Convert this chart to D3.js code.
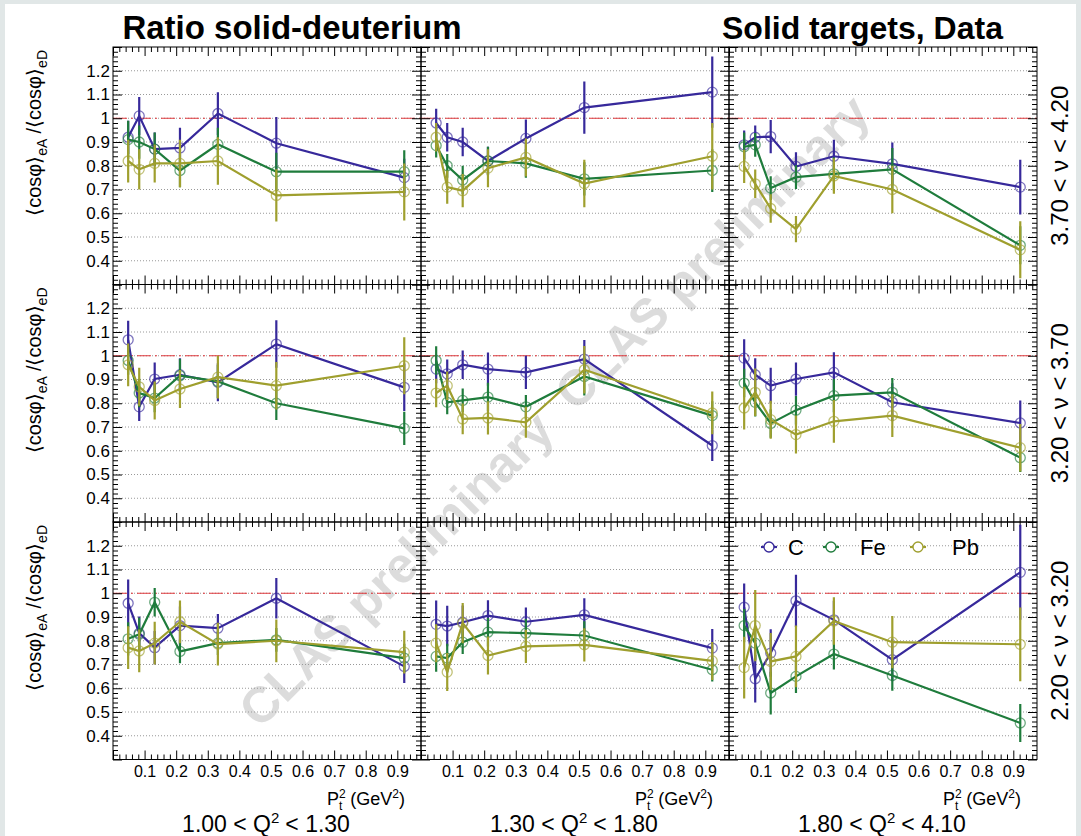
<!DOCTYPE html>
<html>
<head>
<meta charset="utf-8">
<script src="https://cdn.jsdelivr.net/npm/d3@7"></script>
<style>
  html, body { margin: 0; padding: 0; background: #e1e7e7; }
  svg { display: block; }
  text { font-family: "Liberation Sans", Arial, Helvetica, sans-serif; }
</style>
</head>
<body>
<svg id="chart" width="1081" height="836"></svg>
<script>
// ---- data ----
const targets = ['C', 'Fe', 'Pb'];
const q2Low = ['1.00', '1.30', '1.80'];
const q2High = ['1.30', '1.80', '4.10'];
const nuLow = ['3.70', '3.20', '2.20'];   // rows, top to bottom
const nuHigh = ['4.20', '3.70', '3.20'];
const ptMeans = [0.048, 0.083, 0.132, 0.212, 0.332, 0.517, 0.922];
const xTickLabels = [0.1, 0.2, 0.3, 0.4, 0.5, 0.6, 0.7, 0.8, 0.9];
const yTickLabels = [0.4, 0.5, 0.6, 0.7, 0.8, 0.9, 1.0, 1.1, 1.2];

// [nu row][Q2 column][pt bin]
const cRatio = [
  [[0.92, 1.01, 0.87, 0.875, 1.02, 0.895, 0.75], [0.98, 0.92, 0.90, 0.82, 0.915, 1.045, 1.11], [0.888, 0.92, 0.923, 0.797, 0.84, 0.808, 0.71]],
  [[1.067, 0.785, 0.902, 0.92, 0.888, 1.049, 0.867], [0.944, 0.924, 0.962, 0.944, 0.93, 0.986, 0.622], [0.99, 0.92, 0.874, 0.902, 0.93, 0.804, 0.717]],
  [[0.958, 0.832, 0.771, 0.864, 0.853, 0.979, 0.692], [0.869, 0.862, 0.878, 0.906, 0.88, 0.909, 0.769], [0.941, 0.64, 0.748, 0.968, 0.888, 0.72, 1.088]]
];
const cErr = [
  [[0.07, 0.08, 0.07, 0.085, 0.09, 0.11, 0.08], [0.06, 0.06, 0.06, 0.06, 0.08, 0.11, 0.15], [0.06, 0.05, 0.07, 0.06, 0.07, 0.09, 0.115]],
  [[0.08, 0.06, 0.07, 0.07, 0.08, 0.1, 0.1], [0.06, 0.06, 0.06, 0.07, 0.07, 0.08, 0.065], [0.08, 0.07, 0.075, 0.07, 0.085, 0.08, 0.095]],
  [[0.1, 0.07, 0.07, 0.08, 0.06, 0.085, 0.07], [0.1, 0.085, 0.07, 0.065, 0.06, 0.07, 0.08], [0.1, 0.1, 0.1, 0.11, 0.08, 0.09, 0.2]]
];
const feRatio = [
  [[0.91, 0.90, 0.87, 0.78, 0.89, 0.775, 0.775], [0.885, 0.80, 0.74, 0.82, 0.81, 0.745, 0.78], [0.88, 0.888, 0.706, 0.752, 0.766, 0.785, 0.465]],
  [[0.98, 0.843, 0.822, 0.916, 0.892, 0.80, 0.694], [0.98, 0.804, 0.812, 0.826, 0.785, 0.913, 0.748], [0.885, 0.804, 0.715, 0.771, 0.832, 0.846, 0.571]],
  [[0.808, 0.827, 0.962, 0.755, 0.79, 0.804, 0.727], [0.734, 0.727, 0.794, 0.836, 0.832, 0.822, 0.678], [0.864, 0.79, 0.58, 0.65, 0.744, 0.654, 0.454]]
];
const feErr = [
  [[0.08, 0.07, 0.07, 0.07, 0.07, 0.08, 0.09], [0.05, 0.05, 0.06, 0.06, 0.06, 0.07, 0.09], [0.06, 0.05, 0.05, 0.05, 0.07, 0.09, 0.08]],
  [[0.06, 0.06, 0.06, 0.07, 0.07, 0.07, 0.07], [0.06, 0.05, 0.05, 0.06, 0.05, 0.08, 0.06], [0.06, 0.06, 0.06, 0.06, 0.07, 0.06, 0.06]],
  [[0.07, 0.07, 0.06, 0.05, 0.05, 0.05, 0.06], [0.065, 0.06, 0.05, 0.06, 0.06, 0.06, 0.05], [0.07, 0.07, 0.09, 0.07, 0.065, 0.065, 0.08]]
];
const pbRatio = [
  [[0.82, 0.785, 0.81, 0.81, 0.82, 0.675, 0.69], [0.92, 0.71, 0.695, 0.79, 0.835, 0.725, 0.84], [0.797, 0.724, 0.62, 0.533, 0.757, 0.70, 0.446]],
  [[0.962, 0.869, 0.812, 0.86, 0.91, 0.874, 0.958], [0.843, 0.874, 0.734, 0.738, 0.72, 0.941, 0.759], [0.78, 0.846, 0.731, 0.668, 0.724, 0.748, 0.613]],
  [[0.771, 0.757, 0.79, 0.88, 0.786, 0.80, 0.752], [0.79, 0.668, 0.874, 0.738, 0.776, 0.783, 0.715], [0.687, 0.864, 0.713, 0.734, 0.883, 0.794, 0.785]]
];
const pbErr = [
  [[0.09, 0.085, 0.08, 0.1, 0.1, 0.11, 0.12], [0.06, 0.07, 0.07, 0.08, 0.08, 0.1, 0.14], [0.07, 0.06, 0.06, 0.055, 0.075, 0.1, 0.12]],
  [[0.09, 0.08, 0.08, 0.08, 0.09, 0.1, 0.12], [0.06, 0.06, 0.065, 0.07, 0.065, 0.1, 0.09], [0.09, 0.1, 0.08, 0.08, 0.09, 0.09, 0.1]],
  [[0.09, 0.09, 0.09, 0.09, 0.09, 0.09, 0.09], [0.08, 0.08, 0.085, 0.08, 0.07, 0.07, 0.08], [0.13, 0.15, 0.12, 0.13, 0.1, 0.11, 0.155]]
];

// ---- layout ----
const colX = [113, 421, 729];
const rowY = [47, 284.5, 522];
const padW = 308, padH = 237.5;
const lineColor = { C: '#37299b', Fe: '#1f7c3c', Pb: '#9f9f2e' };
const series = { C: [cRatio, cErr], Fe: [feRatio, feErr], Pb: [pbRatio, pbErr] };

const svg = d3.select('#chart');
svg.append('rect').attr('x', 5).attr('y', 4).attr('width', 1071).attr('height', 832).attr('fill', '#fff');

const x = d3.scaleLinear().domain([0, 0.975]).range([0, padW]);
const y = d3.scaleLinear().domain([0.3, 1.3]).range([padH, 0]);
const fmt = d => String(+d.toFixed(1));

const xMajor = [0].concat(xTickLabels);
const xMinor = d3.range(0.02, 0.975, 0.02).filter(v => Math.abs(v * 10 - Math.round(v * 10)) > 1e-6);
const yMajor = d3.range(0.3, 1.301, 0.1);
const yMinor = d3.range(0.32, 1.3, 0.02).filter(v => Math.abs(v * 10 - Math.round(v * 10)) > 1e-6);

// watermark
[[396, 569], [712, 252]].forEach(([cx, cy]) => {
  svg.append('text')
    .attr('transform', `translate(${cx},${cy}) rotate(-45)`)
    .attr('text-anchor', 'middle')
    .attr('dy', '0.35em')
    .attr('font-size', 50)
    .attr('font-weight', 'bold')
    .attr('fill', '#bbb')
    .attr('opacity', 0.5)
    .text('CLAS preliminary');
});

const defs = svg.append('defs');
defs.append('clipPath').attr('id', 'padclip')
  .append('rect').attr('width', padW).attr('height', padH);

function tickAxis(g, axis) {
  g.call(axis).call(s => s.select('.domain').remove());
  g.selectAll('.tick line').attr('stroke', '#000');
}

for (let r = 0; r < 3; r++) {
  for (let c = 0; c < 3; c++) {
    const g = svg.append('g').attr('transform', `translate(${colX[c]},${rowY[r]})`);

    // grid
    g.selectAll('line.grid').data(yTickLabels).join('line')
      .attr('x1', 0).attr('x2', padW)
      .attr('y1', d => y(d)).attr('y2', d => y(d))
      .attr('stroke', '#999').attr('stroke-dasharray', '1,2').attr('stroke-width', 1);

    g.append('line')
      .attr('x1', 0).attr('x2', padW).attr('y1', y(1)).attr('y2', y(1))
      .attr('stroke', '#e0393c').attr('stroke-width', 1).attr('stroke-dasharray', '14,4,2,4');

    // axes ticks, all pointing inward
    const bot = g.append('g').attr('transform', `translate(0,${padH})`);
    tickAxis(bot, d3.axisBottom(x).tickValues(xMajor).tickSize(-9).tickPadding(6)
      .tickFormat(d => (r === 2 && d > 0) ? fmt(d) : ''));
    bot.selectAll('text').attr('font-size', 16).attr('fill', '#000');
    tickAxis(g.append('g').attr('transform', `translate(0,${padH})`),
      d3.axisBottom(x).tickValues(xMinor).tickSize(-5).tickFormat(''));
    tickAxis(g.append('g'), d3.axisTop(x).tickValues(xMajor).tickSize(-9).tickFormat(''));
    tickAxis(g.append('g'), d3.axisTop(x).tickValues(xMinor).tickSize(-5).tickFormat(''));

    const left = g.append('g');
    tickAxis(left, d3.axisLeft(y).tickValues(yMajor).tickSize(-9).tickPadding(3)
      .tickFormat(d => (c === 0 && d > 0.35 && d < 1.25) ? fmt(d) : ''));
    left.selectAll('text').attr('font-size', 17).attr('fill', '#000');
    tickAxis(g.append('g'), d3.axisLeft(y).tickValues(yMinor).tickSize(-5).tickFormat(''));
    tickAxis(g.append('g').attr('transform', `translate(${padW},0)`),
      d3.axisRight(y).tickValues(yMajor).tickSize(-9).tickFormat(''));
    tickAxis(g.append('g').attr('transform', `translate(${padW},0)`),
      d3.axisRight(y).tickValues(yMinor).tickSize(-5).tickFormat(''));

    // data
    const plot = g.append('g').attr('clip-path', 'url(#padclip)');
    targets.forEach(t => {
      const vals = series[t][0][r][c];
      const errs = series[t][1][r][c];
      const pts = ptMeans.map((p, i) => ({ p, v: vals[i], e: errs[i] }));
      const col = lineColor[t];
      plot.append('path').datum(pts)
        .attr('d', d3.line().x(d => x(d.p)).y(d => y(d.v)))
        .attr('fill', 'none').attr('stroke', col).attr('stroke-width', 2.2);
      plot.selectAll(null).data(pts).join('line')
        .attr('x1', d => x(d.p)).attr('x2', d => x(d.p))
        .attr('y1', d => y(d.v - d.e)).attr('y2', d => y(d.v + d.e))
        .attr('stroke', col).attr('stroke-width', 2.2);
      plot.selectAll(null).data(pts).join('circle')
        .attr('cx', d => x(d.p)).attr('cy', d => y(d.v)).attr('r', 5)
        .attr('fill', 'none').attr('stroke', col).attr('stroke-width', 1.3).attr('stroke-opacity', 0.65);
    });

    g.append('rect').attr('width', padW).attr('height', padH)
      .attr('fill', 'none').attr('stroke', '#000').attr('stroke-width', 1);
  }
}

// y-axis titles
rowY.forEach(top => {
  const t = svg.append('text')
    .attr('transform', `translate(41,${top + 3}) rotate(-90)`)
    .attr('text-anchor', 'end')
    .attr('font-size', 20);
  t.append('tspan').text('\u27E8cos\u03C6\u27E9');
  t.append('tspan').attr('font-size', 14).attr('dy', 6).text('eA');
  t.append('tspan').attr('dy', -6).attr('dx', 5).text('/\u27E8cos\u03C6\u27E9');
  t.append('tspan').attr('font-size', 14).attr('dy', 6).text('eD');
});

// nu labels
rowY.forEach((top, r) => {
  svg.append('text')
    .attr('transform', `translate(1068,${top + padH / 2}) rotate(-90)`)
    .attr('text-anchor', 'middle')
    .attr('font-size', 24)
    .text(`${nuLow[r]} < \u03BD < ${nuHigh[r]}`);
});

// x titles and Q2 bins
colX.forEach((x0, c) => {
  const t = svg.append('text').attr('x', 0).attr('y', 805).attr('font-size', 18);
  t.append('tspan').text('P');
  t.append('tspan').attr('font-size', 12).attr('dy', -7).text('2');
  t.append('tspan').attr('font-size', 12).attr('dx', -6.7).attr('dy', 12).text('t');
  t.append('tspan').attr('dy', -5).attr('dx', 8).text('(GeV');
  t.append('tspan').attr('font-size', 12).attr('dy', -7).text('2');
  t.append('tspan').attr('dy', 7).text(')');
  const w = t.node().getBBox().width;
  t.attr('x', x0 + 292 - w);

  const q = svg.append('text').attr('x', x0 + 153).attr('y', 832)
    .attr('text-anchor', 'middle').attr('font-size', 23);
  q.append('tspan').text(`${q2Low[c]} < Q`);
  q.append('tspan').attr('font-size', 15).attr('dy', -9).text('2');
  q.append('tspan').attr('dy', 9).attr('dx', 6).text(`< ${q2High[c]}`);
});

// titles
svg.append('text').attr('x', 292).attr('y', 39).attr('text-anchor', 'middle')
  .attr('font-size', 33).attr('font-weight', 'bold').text('Ratio solid-deuterium');
svg.append('text').attr('x', 722).attr('y', 39)
  .attr('font-size', 32).attr('font-weight', 'bold').text('Solid targets, Data');

// legend
const legX = [769, 831, 918];
const legTextX = [788, 860, 952];
targets.forEach((t, i) => {
  const lg = svg.append('g');
  lg.append('line').attr('x1', legX[i] - 8).attr('x2', legX[i] + 8).attr('y1', 547).attr('y2', 547)
    .attr('stroke', lineColor[t]).attr('stroke-width', 2.2);
  lg.append('circle').attr('cx', legX[i]).attr('cy', 547).attr('r', 5)
    .attr('fill', '#fff').attr('stroke', lineColor[t]).attr('stroke-width', 1.3);
  lg.append('text').attr('x', legTextX[i]).attr('y', 555).attr('font-size', 22).text(t);
});
</script>
</body>
</html>
